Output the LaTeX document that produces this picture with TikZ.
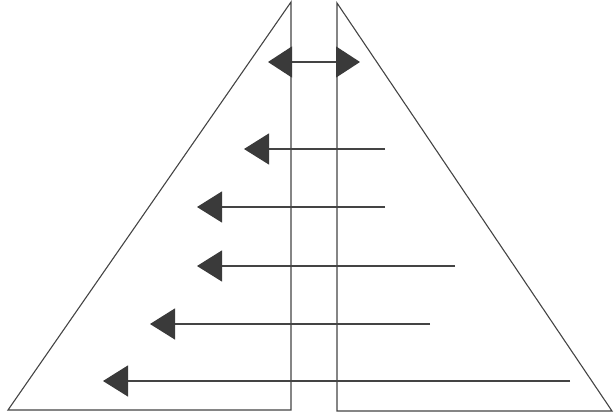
\documentclass[tikz,border=0pt]{standalone}
\usetikzlibrary{arrows.meta}
\definecolor{ink}{HTML}{444444}
\definecolor{headink}{HTML}{3A3A3A}
\tikzset{
  outline/.style={draw=ink, line width=1.1pt, line join=miter},
  leftarrow/.style={draw=ink, line width=1.3pt, -{Triangle[length=25pt,width=31pt,color=headink]}},
  botharrow/.style={draw=ink, line width=1.3pt, {Triangle[length=24pt,width=31pt,color=headink]}-{Triangle[length=24pt,width=31pt,color=headink]}}
}
\begin{document}
\begin{tikzpicture}[x=1pt,y=-1pt]
\useasboundingbox (0,0) rectangle (614,418);
% left half triangle
\coordinate (LT) at (291,2);
\coordinate (LB) at (291,410);
\coordinate (LL) at (8,410);
\draw[outline] (LT) -- (LB) -- (LL) -- cycle;
% right half triangle
\coordinate (RT) at (337,3);
\coordinate (RB) at (337,411);
\coordinate (RR) at (612,411);
\draw[outline] (RT) -- (RB) -- (RR) -- cycle;
% double arrow
\coordinate (d1) at (268,62);
\coordinate (d2) at (360,62);
\draw[botharrow] (d1) -- (d2);
% left arrows
\coordinate (a1s) at (385,149); \coordinate (a1e) at (244,149);
\coordinate (a2s) at (385,207); \coordinate (a2e) at (197,207);
\coordinate (a3s) at (455,266); \coordinate (a3e) at (197,266);
\coordinate (a4s) at (430,324); \coordinate (a4e) at (150,324);
\coordinate (a5s) at (570,381); \coordinate (a5e) at (103,381);
\draw[leftarrow] (a1s) -- (a1e);
\draw[leftarrow] (a2s) -- (a2e);
\draw[leftarrow] (a3s) -- (a3e);
\draw[leftarrow] (a4s) -- (a4e);
\draw[leftarrow] (a5s) -- (a5e);
\end{tikzpicture}
\end{document}
